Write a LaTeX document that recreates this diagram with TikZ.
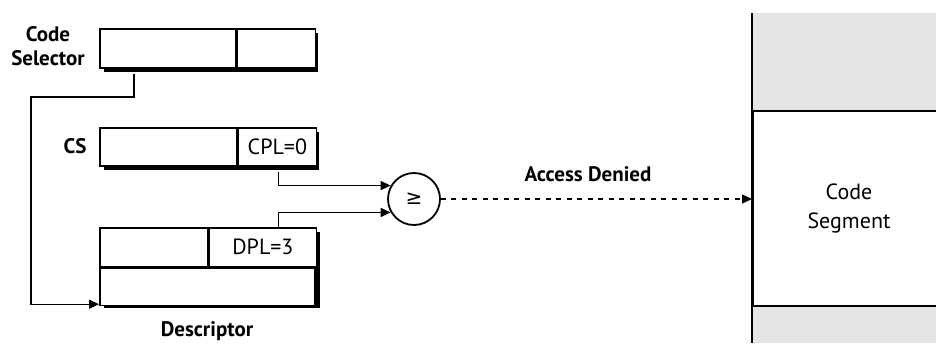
\documentclass[tikz,border=0pt]{standalone}
\usepackage{fontspec}
\setmainfont{PT Sans}
\newfontfamily\symfont{DejaVu Sans}
\usetikzlibrary{arrows.meta,calc}
\begin{document}
\begin{tikzpicture}[x=1pt,y=-1pt,
  cell/.style={draw, line width=1.6pt, fill=white, inner sep=0pt, anchor=north west,
    font=\fontsize{22}{24}\selectfont},
  shadowfill/.style={fill=black},
  lbl/.style={font=\fontsize{21}{24}\selectfont\bfseries, align=center, inner sep=0pt},
  conn/.style={line width=1.2pt},
  arr/.style={conn, -{Triangle[length=10pt,width=9pt]}},
  segfill/.style={fill=black!10},
]
\clip (0,0) rectangle (936,346);
\fill[white] (0,0) rectangle (936,346);

% ---- Code selector ----
\fill[shadowfill] (104,33) rectangle (318,72);
\node[cell, minimum width=136pt, minimum height=39pt] (sel1) at (99,28) {};
\node[cell, minimum width=78pt, minimum height=39pt] (sel2) at (sel1.north east) {};
\node[lbl] (sellbl) at (48,46) {Code\\Selector};

% ---- CS ----
\fill[shadowfill] (104,132) rectangle (319,170);
\node[cell, minimum width=137pt, minimum height=38pt] (cs1) at (99,127) {};
\node[cell, minimum width=78pt, minimum height=38pt] (cs2) at (cs1.north east) {CPL=0};
\node[lbl] (cslbl) at (75,146) {CS};

% ---- Descriptor ----
\fill[shadowfill] (104,232) rectangle (320,308);
\node[cell, minimum width=108pt, minimum height=39pt] (d1) at (99,227) {};
\node[cell, minimum width=107pt, minimum height=39pt] (d2) at (d1.north east) {DPL=3};
\node[cell, minimum width=215pt, minimum height=37pt] (d3) at (d1.south west) {};
\node[lbl] (dlbl) at (207,331) {Descriptor};

% ---- comparator ----
\node[draw, circle, line width=1.8pt, minimum size=52pt, inner sep=0pt,
  font=\symfont\fontsize{20}{22}\selectfont] (cmp) at (414,199) {≥};

% ---- code segment ----
\fill[segfill] (752,13) rectangle (948,110);
\fill[segfill] (752,305) rectangle (948,343);
\node[fill=white, draw, line width=1.6pt, minimum width=196pt, minimum height=195pt,
  anchor=north west, inner sep=0pt] (seg) at (752,110) {};
\node[align=center, inner sep=0pt, font=\fontsize{22}{29}\selectfont] (segtxt) at (849,208) {Code\\Segment};
\draw[line width=2.2pt] (752,13) -- (752,343);

\node[lbl] (acc) at (588,174) {Access Denied};

% ---- connectors ----
\coordinate (selout) at ($(sel1.south west)+(35,5)$);
\coordinate (bend1) at (31,97);
\coordinate (dIn) at ([yshift=2pt]d3.south west);
\draw[arr] (selout) |- (bend1) |- (dIn);

\coordinate (csout) at ($(cs2.south west)+(41,5)$);
\draw[arr] (csout) |- (cmp.150);
\coordinate (dout) at ($(d2.north west)+(70,0)$);
\draw[arr] (dout) |- (cmp.210);

\draw[arr, dash pattern=on 5pt off 5.5pt] (cmp.east) -- (seg.west |- cmp.east);
\end{tikzpicture}
\end{document}
